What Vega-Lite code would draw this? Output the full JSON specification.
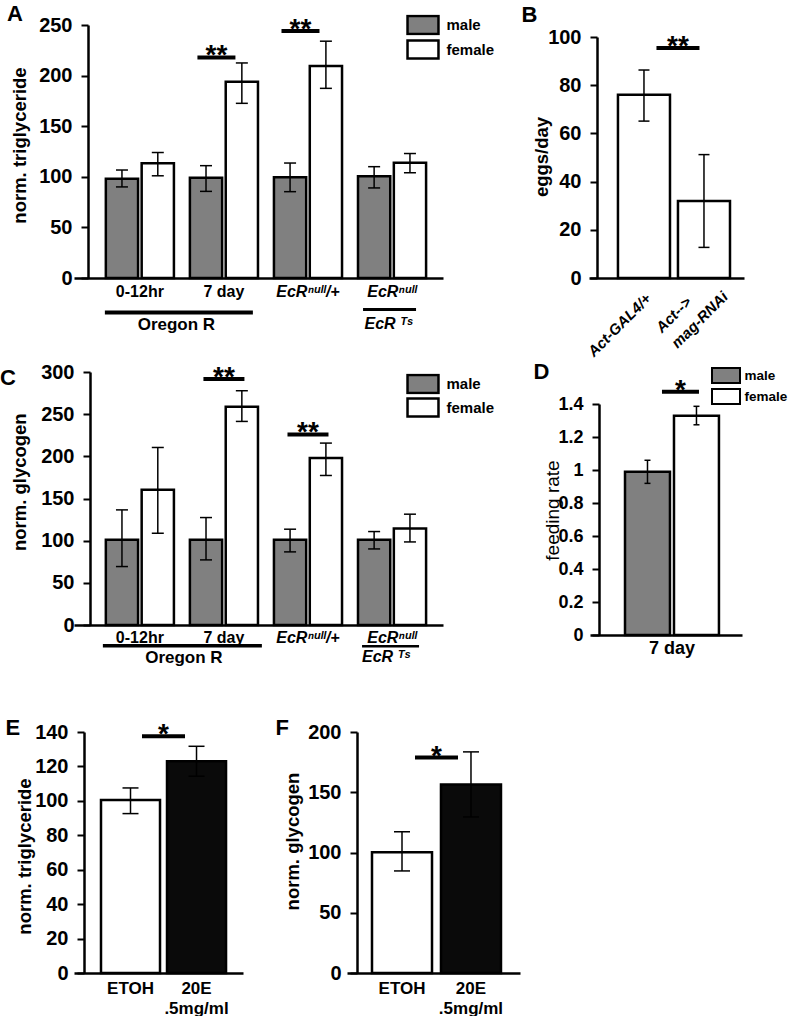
{
  "$schema": "https://vega.github.io/schema/vega-lite/v6.json",
  "padding": {"left": 0, "top": 2, "right": 0, "bottom": 0},
  "spacing": 50,
  "resolve": {"scale": {"x": "independent", "y": "independent", "xOffset": "independent", "color": "independent"}, "legend": {"color": "independent"}},
  "config": {
    "font": "Liberation Sans",
    "view": {"stroke": null},
    "axis": {"grid": false, "domainColor": "#000", "domainWidth": 2.5, "tickColor": "#000", "tickWidth": 2, "tickSize": 7, "labelColor": "#000", "titleColor": "#000", "labelFont": "Liberation Sans, DejaVu Sans", "titleFont": "Liberation Sans", "labelFontWeight": "bold", "titleFontWeight": "bold", "titleFontSize": 18.5, "labelOverlap": false},
    "axisX": {"ticks": false, "labelAngle": 0, "labelFontSize": 16, "labelPadding": 5},
    "axisY": {"labelFontSize": 20, "labelPadding": 9, "titleBaseline": "middle", "tickCount": 20},
    "title": {"fontSize": 22, "fontWeight": "bold", "anchor": "start", "frame": "group", "baseline": "alphabetic", "color": "#000", "font": "Liberation Sans"},
    "legend": {"padding": 0, "labelColor": "#000", "labelFont": "Liberation Sans", "labelFontWeight": "bold"}
  },
  "vconcat": [
    {
      "spacing": 1,
      "resolve": {"scale": {"x": "independent", "y": "independent", "xOffset": "independent", "color": "independent"}, "legend": {"color": "independent"}},
      "vconcat": [
        {
          "bounds": "flush",
          "spacing": 146,
          "resolve": {"scale": {"x": "independent", "y": "independent", "xOffset": "independent", "color": "independent"}, "legend": {"color": "independent"}},
          "hconcat": [
            {
              "width": 369, "height": 253,
              "title": {"text": "A", "dx": -67, "offset": -11.3},
              "layer": [
                {
                  "data": {"values": [
                    {"group": "0-12hr", "sex": "male", "value": 98, "lo": 90, "hi": 106.7},
                    {"group": "0-12hr", "sex": "female", "value": 113.5, "lo": 101, "hi": 124},
                    {"group": "7 day", "sex": "male", "value": 99, "lo": 85.6, "hi": 111},
                    {"group": "7 day", "sex": "female", "value": 194, "lo": 172.6, "hi": 212.5},
                    {"group": "EcRⁿᵘˡˡ/+", "sex": "male", "value": 99.5, "lo": 85.3, "hi": 113.6},
                    {"group": "EcRⁿᵘˡˡ/+", "sex": "female", "value": 209.5, "lo": 187.4, "hi": 234},
                    {"group": "EcRⁿᵘˡˡ", "sex": "male", "value": 100.5, "lo": 89, "hi": 110},
                    {"group": "EcRⁿᵘˡˡ", "sex": "female", "value": 114, "lo": 104, "hi": 123}
                  ]},
                  "layer": [
                    {
                      "mark": {"type": "bar", "stroke": "#000", "strokeWidth": 2.5},
                      "encoding": {
                        "x": {"field": "group", "type": "nominal", "sort": null, "scale": {"domain": ["0-12hr", "7 day", "EcRⁿᵘˡˡ/+", "EcRⁿᵘˡˡ"], "paddingInner": 0.19, "paddingOuter": 0.29, "align": 0.653}, "axis": {"title": null, "labelPadding": 5, "labelFontStyle": {"condition": {"test": "indexof(datum.value, 'EcR') >= 0", "value": "italic"}, "value": "normal"}}},
                        "xOffset": {"field": "sex", "type": "nominal", "sort": null, "scale": {"domain": ["male", "female"], "paddingInner": 0.1, "paddingOuter": 0}},
                        "y": {"field": "value", "type": "quantitative", "scale": {"domain": [0, 250], "nice": false}, "axis": {"values": [0, 50, 100, 150, 200, 250], "tickCount": 20, "labelOverlap": false, "offset": -14, "title": "norm. triglyceride", "titleX": -69, "titleY": 120}},
                        "color": {"field": "sex", "type": "nominal", "sort": null, "scale": {"domain": ["male", "female"], "range": ["#808080", "#ffffff"]}, "legend": {"title": null, "orient": "none", "legendX": 332, "legendY": -10.5, "clipHeight": 21, "symbolType": "M-1.72,-1H1.72V1H-1.72Z", "symbolSize": 324, "symbolOffset": 6.5, "symbolStrokeColor": "#000", "symbolStrokeWidth": 2.5, "labelFontSize": 15, "labelOffset": 13, "rowPadding": 3.5, "encode": {"symbols": {"update": {"stroke": {"value": "#000"}, "strokeWidth": {"value": 2.5}}}}}}
                      }
                    },
                    {
                      "mark": {"type": "rule", "color": "#000", "strokeWidth": 1.5},
                      "encoding": {"x": {"field": "group", "type": "nominal", "sort": null}, "xOffset": {"field": "sex", "type": "nominal", "sort": null}, "y": {"field": "lo", "type": "quantitative"}, "y2": {"field": "hi"}}
                    },
                    {
                      "mark": {"type": "tick", "orient": "horizontal", "color": "#000", "opacity": 1, "size": 12, "thickness": 1.5},
                      "encoding": {"x": {"field": "group", "type": "nominal", "sort": null}, "xOffset": {"field": "sex", "type": "nominal", "sort": null}, "y": {"field": "lo", "type": "quantitative"}}
                    },
                    {
                      "mark": {"type": "tick", "orient": "horizontal", "color": "#000", "opacity": 1, "size": 12, "thickness": 1.5},
                      "encoding": {"x": {"field": "group", "type": "nominal", "sort": null}, "xOffset": {"field": "sex", "type": "nominal", "sort": null}, "y": {"field": "hi", "type": "quantitative"}}
                    }
                  ]
                },
                {
                  "data": {"values": [
                    {"group": "7 day", "y": 218, "label": "**"},
                    {"group": "EcRⁿᵘˡˡ/+", "y": 244, "label": "**"}
                  ]},
                  "layer": [
                    {"mark": {"type": "tick", "orient": "horizontal", "color": "#000", "opacity": 1, "size": 38, "thickness": 4, "xOffset": -7.5}, "encoding": {"x": {"field": "group", "type": "nominal", "sort": null}, "y": {"field": "y", "type": "quantitative"}}},
                    {"mark": {"type": "text", "fontSize": 28, "fontWeight": "bold", "baseline": "alphabetic", "dx": -7.5, "dy": 7, "color": "#000"}, "encoding": {"x": {"field": "group", "type": "nominal", "sort": null}, "y": {"field": "y", "type": "quantitative"}, "text": {"field": "label"}}}
                  ]
                },
                {
                  "data": {"values": [{"group": "0-12hr", "label": "Oregon R"}]},
                  "layer": [
                    {"mark": {"type": "tick", "orient": "horizontal", "color": "#000", "opacity": 1, "size": 148, "thickness": 4, "xOffset": 39, "yOffset": 34.5}, "encoding": {"x": {"field": "group", "type": "nominal", "sort": null}, "y": {"datum": 0}}},
                    {"mark": {"type": "text", "fontSize": 17, "fontWeight": "bold", "baseline": "alphabetic", "dx": 36.5, "dy": 52, "color": "#000"}, "encoding": {"x": {"field": "group", "type": "nominal", "sort": null}, "y": {"datum": 0}, "text": {"field": "label"}}}
                  ]
                },
                {
                  "data": {"values": [{"group": "EcRⁿᵘˡˡ", "label": "EcR ᵀˢ"}]},
                  "layer": [
                    {"mark": {"type": "tick", "orient": "horizontal", "color": "#000", "opacity": 1, "size": 53, "thickness": 3, "xOffset": -2.5, "yOffset": 31.5}, "encoding": {"x": {"field": "group", "type": "nominal", "sort": null}, "y": {"datum": 0}}},
                    {"mark": {"type": "text", "fontSize": 16, "fontWeight": "bold", "fontStyle": "italic", "font": "Liberation Sans, DejaVu Sans", "baseline": "alphabetic", "dx": -3.5, "dy": 51, "color": "#000"}, "encoding": {"x": {"field": "group", "type": "nominal", "sort": null}, "y": {"datum": 0}, "text": {"field": "label"}}}
                  ]
                }
              ]
            },
            {
              "bounds": "flush",
              "spacing": 0,
              "resolve": {"scale": {"x": "independent", "y": "independent", "color": "independent"}, "legend": {"color": "independent"}},
              "vconcat": [
                {"width": 1, "height": 12, "data": {"values": []}, "mark": "point"},
                {
                  "width": 155, "height": 241,
                  "title": {"text": "B", "dx": -67.5, "offset": 0},
                  "layer": [
                    {
                      "data": {"values": [
                        {"genotype": "Act-GAL4/+", "value": 76, "lo": 65.1, "hi": 86.3},
                        {"genotype": "Act-->\nmag-RNAi", "value": 32, "lo": 12.7, "hi": 51.2}
                      ]},
                      "layer": [
                        {
                          "mark": {"type": "bar", "fill": "#fff", "stroke": "#000", "strokeWidth": 2.5},
                          "encoding": {
                            "x": {"field": "genotype", "type": "nominal", "sort": null, "scale": {"domain": ["Act-GAL4/+", "Act-->\nmag-RNAi"], "paddingInner": 0.133, "paddingOuter": 0.358, "align": 0.674}, "axis": {"title": null, "labels": false}},
                            "y": {"field": "value", "type": "quantitative", "scale": {"domain": [0, 100], "nice": false}, "axis": {"values": [0, 20, 40, 60, 80, 100], "tickCount": 20, "labelOverlap": false, "offset": -8, "title": "eggs/day", "titleX": -56, "titleY": 119.5}}
                          }
                        },
                        {"mark": {"type": "rule", "color": "#000", "strokeWidth": 1.5}, "encoding": {"x": {"field": "genotype", "type": "nominal", "sort": null}, "y": {"field": "lo", "type": "quantitative"}, "y2": {"field": "hi"}}},
                        {"mark": {"type": "tick", "orient": "horizontal", "color": "#000", "opacity": 1, "size": 11, "thickness": 1.5}, "encoding": {"x": {"field": "genotype", "type": "nominal", "sort": null}, "y": {"field": "lo", "type": "quantitative"}}},
                        {"mark": {"type": "tick", "orient": "horizontal", "color": "#000", "opacity": 1, "size": 11, "thickness": 1.5}, "encoding": {"x": {"field": "genotype", "type": "nominal", "sort": null}, "y": {"field": "hi", "type": "quantitative"}}}
                      ]
                    },
                    {
                      "data": {"values": [{"genotype": "Act-GAL4/+"}]},
                      "mark": {"type": "text", "angle": -45, "align": "right", "baseline": "middle", "dx": -9.5, "dy": 15.9, "fontSize": 15, "fontWeight": "bold", "fontStyle": "italic", "color": "#000"},
                      "encoding": {"x": {"field": "genotype", "type": "nominal", "sort": null}, "y": {"datum": 0}, "text": {"field": "genotype"}}
                    },
                    {
                      "data": {"values": [{"genotype": "Act-->\nmag-RNAi"}]},
                      "mark": {"type": "text", "angle": -45, "align": "left", "baseline": "middle", "lineBreak": "\n", "lineHeight": 22, "dx": -68.9, "dy": 4.6, "fontSize": 15, "fontWeight": "bold", "fontStyle": "italic", "color": "#000"},
                      "encoding": {"x": {"field": "genotype", "type": "nominal", "sort": null}, "y": {"datum": 0}, "text": {"field": "genotype"}}
                    },
                    {
                      "data": {"values": [{"genotype": "Act-GAL4/+", "y": 95.4, "label": "**"}]},
                      "layer": [
                        {"mark": {"type": "tick", "orient": "horizontal", "color": "#000", "opacity": 1, "size": 43, "thickness": 4, "xOffset": 34}, "encoding": {"x": {"field": "genotype", "type": "nominal", "sort": null}, "y": {"field": "y", "type": "quantitative"}}},
                        {"mark": {"type": "text", "fontSize": 28, "fontWeight": "bold", "baseline": "alphabetic", "dx": 34, "dy": 7, "color": "#000"}, "encoding": {"x": {"field": "genotype", "type": "nominal", "sort": null}, "y": {"field": "y", "type": "quantitative"}, "text": {"field": "label"}}}
                      ]
                    }
                  ]
                }
              ]
            }
          ]
        },
        {
          "bounds": "flush",
          "spacing": 147,
          "resolve": {"scale": {"x": "independent", "y": "independent", "xOffset": "independent", "color": "independent"}, "legend": {"color": "independent"}},
          "hconcat": [
            {
              "width": 369, "height": 253,
              "title": {"text": "C", "dx": -74, "offset": -28},
              "layer": [
                {
                  "data": {"values": [
                    {"group": "0-12hr", "sex": "male", "value": 101, "lo": 69.3, "hi": 136.5},
                    {"group": "0-12hr", "sex": "female", "value": 160.3, "lo": 108.8, "hi": 210.5},
                    {"group": "7 day", "sex": "male", "value": 101, "lo": 77.2, "hi": 127.4},
                    {"group": "7 day", "sex": "female", "value": 258.8, "lo": 241.4, "hi": 277.8},
                    {"group": "EcRⁿᵘˡˡ/+", "sex": "male", "value": 101, "lo": 86.7, "hi": 113.6},
                    {"group": "EcRⁿᵘˡˡ/+", "sex": "female", "value": 197.9, "lo": 177.3, "hi": 215.7},
                    {"group": "EcRⁿᵘˡˡ", "sex": "male", "value": 101, "lo": 90.2, "hi": 110.8},
                    {"group": "EcRⁿᵘˡˡ", "sex": "female", "value": 114.4, "lo": 98.5, "hi": 131.4}
                  ]},
                  "layer": [
                    {
                      "mark": {"type": "bar", "stroke": "#000", "strokeWidth": 2.5},
                      "encoding": {
                        "x": {"field": "group", "type": "nominal", "sort": null, "scale": {"domain": ["0-12hr", "7 day", "EcRⁿᵘˡˡ/+", "EcRⁿᵘˡˡ"], "paddingInner": 0.19, "paddingOuter": 0.29, "align": 0.653}, "axis": {"title": null, "labelPadding": 4, "labelFontStyle": {"condition": {"test": "indexof(datum.value, 'EcR') >= 0", "value": "italic"}, "value": "normal"}}},
                        "xOffset": {"field": "sex", "type": "nominal", "sort": null, "scale": {"domain": ["male", "female"], "paddingInner": 0.1, "paddingOuter": 0}},
                        "y": {"field": "value", "type": "quantitative", "scale": {"domain": [0, 300], "nice": false}, "axis": {"values": [0, 50, 100, 150, 200, 250, 300], "tickCount": 20, "labelOverlap": false, "offset": -16, "title": "norm. glycogen", "titleX": -71, "titleY": 109.7}},
                        "color": {"field": "sex", "type": "nominal", "sort": null, "scale": {"domain": ["male", "female"], "range": ["#808080", "#ffffff"]}, "legend": {"title": null, "orient": "none", "legendX": 332, "legendY": 1.5, "clipHeight": 21, "symbolType": "M-1.72,-1H1.72V1H-1.72Z", "symbolSize": 324, "symbolOffset": 6.5, "symbolStrokeColor": "#000", "symbolStrokeWidth": 2.5, "labelFontSize": 15, "labelOffset": 13, "rowPadding": 2.5, "encode": {"symbols": {"update": {"stroke": {"value": "#000"}, "strokeWidth": {"value": 2.5}}}}}}
                      }
                    },
                    {
                      "mark": {"type": "rule", "color": "#000", "strokeWidth": 1.5},
                      "encoding": {"x": {"field": "group", "type": "nominal", "sort": null}, "xOffset": {"field": "sex", "type": "nominal", "sort": null}, "y": {"field": "lo", "type": "quantitative"}, "y2": {"field": "hi"}}
                    },
                    {
                      "mark": {"type": "tick", "orient": "horizontal", "color": "#000", "opacity": 1, "size": 12, "thickness": 1.5},
                      "encoding": {"x": {"field": "group", "type": "nominal", "sort": null}, "xOffset": {"field": "sex", "type": "nominal", "sort": null}, "y": {"field": "lo", "type": "quantitative"}}
                    },
                    {
                      "mark": {"type": "tick", "orient": "horizontal", "color": "#000", "opacity": 1, "size": 12, "thickness": 1.5},
                      "encoding": {"x": {"field": "group", "type": "nominal", "sort": null}, "xOffset": {"field": "sex", "type": "nominal", "sort": null}, "y": {"field": "hi", "type": "quantitative"}}
                    }
                  ]
                },
                {
                  "data": {"values": [
                    {"group": "7 day", "y": 291.6, "label": "**"},
                    {"group": "EcRⁿᵘˡˡ/+", "y": 226, "label": "**"}
                  ]},
                  "layer": [
                    {"mark": {"type": "tick", "orient": "horizontal", "color": "#000", "opacity": 1, "size": 41, "thickness": 4}, "encoding": {"x": {"field": "group", "type": "nominal", "sort": null}, "y": {"field": "y", "type": "quantitative"}}},
                    {"mark": {"type": "text", "fontSize": 28, "fontWeight": "bold", "baseline": "alphabetic", "dy": 7, "color": "#000"}, "encoding": {"x": {"field": "group", "type": "nominal", "sort": null}, "y": {"field": "y", "type": "quantitative"}, "text": {"field": "label"}}}
                  ]
                },
                {
                  "data": {"values": [{"group": "0-12hr", "label": "Oregon R"}]},
                  "layer": [
                    {"mark": {"type": "tick", "orient": "horizontal", "color": "#000", "opacity": 1, "size": 159, "thickness": 3.5, "xOffset": 42.5, "yOffset": 20.7}, "encoding": {"x": {"field": "group", "type": "nominal", "sort": null}, "y": {"datum": 0}}},
                    {"mark": {"type": "text", "fontSize": 17, "fontWeight": "bold", "baseline": "alphabetic", "dx": 44, "dy": 37.7, "color": "#000"}, "encoding": {"x": {"field": "group", "type": "nominal", "sort": null}, "y": {"datum": 0}, "text": {"field": "label"}}}
                  ]
                },
                {
                  "data": {"values": [{"group": "EcRⁿᵘˡˡ", "label": "EcR ᵀˢ"}]},
                  "layer": [
                    {"mark": {"type": "tick", "orient": "horizontal", "color": "#000", "opacity": 1, "size": 57, "thickness": 2.5, "xOffset": -1.5, "yOffset": 21.2}, "encoding": {"x": {"field": "group", "type": "nominal", "sort": null}, "y": {"datum": 0}}},
                    {"mark": {"type": "text", "fontSize": 16, "fontWeight": "bold", "fontStyle": "italic", "font": "Liberation Sans, DejaVu Sans", "baseline": "alphabetic", "dx": -6, "dy": 36.7, "color": "#000"}, "encoding": {"x": {"field": "group", "type": "nominal", "sort": null}, "y": {"datum": 0}, "text": {"field": "label"}}}
                  ]
                }
              ]
            },
            {
              "bounds": "flush",
              "spacing": 0,
              "resolve": {"scale": {"x": "independent", "y": "independent", "xOffset": "independent", "color": "independent"}, "legend": {"color": "independent"}},
              "vconcat": [
                {"width": 1, "height": 32, "data": {"values": []}, "mark": "point"},
                {
                  "width": 152, "height": 231,
                  "title": {"text": "D", "dx": -56.5, "offset": -17},
                  "layer": [
                    {
                      "data": {"values": [
                        {"day": "7 day", "sex": "male", "value": 0.99, "lo": 0.919, "hi": 1.059},
                        {"day": "7 day", "sex": "female", "value": 1.329, "lo": 1.274, "hi": 1.386}
                      ]},
                      "layer": [
                        {
                          "mark": {"type": "bar", "stroke": "#000", "strokeWidth": 2.5},
                          "encoding": {
                            "x": {"field": "day", "type": "nominal", "sort": null, "scale": {"domain": ["7 day"], "paddingInner": 0, "paddingOuter": 0.309, "align": 0.603}, "axis": {"title": null, "labelFontSize": 18, "labelPadding": 4}},
                            "xOffset": {"field": "sex", "type": "nominal", "sort": null, "scale": {"domain": ["male", "female"], "paddingInner": 0.082, "paddingOuter": 0}},
                            "y": {"field": "value", "type": "quantitative", "scale": {"domain": [0, 1.4], "nice": false}, "axis": {"values": [0, 0.2, 0.4, 0.6, 0.8, 1, 1.2, 1.4], "tickCount": 20, "labelOverlap": false, "format": "~g", "labelFontSize": 18, "offset": -9, "title": "feeding rate", "titleFontWeight": "normal", "titleFontSize": 19, "titleX": -46.5, "titleY": 106}},
                            "color": {"field": "sex", "type": "nominal", "sort": null, "scale": {"domain": ["male", "female"], "range": ["#808080", "#ffffff"]}, "legend": {"title": null, "orient": "none", "legendX": 121, "legendY": -37, "clipHeight": 17, "symbolType": "M-1.867,-1H1.867V1H-1.867Z", "symbolSize": 225, "symbolOffset": 6.5, "symbolStrokeColor": "#000", "symbolStrokeWidth": 2, "labelFontSize": 13.5, "labelOffset": 10, "rowPadding": 4, "encode": {"symbols": {"update": {"stroke": {"value": "#000"}, "strokeWidth": {"value": 2}}}}}}
                          }
                        },
                        {"mark": {"type": "rule", "color": "#000", "strokeWidth": 1.5}, "encoding": {"x": {"field": "day", "type": "nominal", "sort": null}, "xOffset": {"field": "sex", "type": "nominal", "sort": null}, "y": {"field": "lo", "type": "quantitative"}, "y2": {"field": "hi"}}},
                        {"mark": {"type": "tick", "orient": "horizontal", "color": "#000", "opacity": 1, "size": 6, "thickness": 1.5}, "encoding": {"x": {"field": "day", "type": "nominal", "sort": null}, "xOffset": {"field": "sex", "type": "nominal", "sort": null}, "y": {"field": "lo", "type": "quantitative"}}},
                        {"mark": {"type": "tick", "orient": "horizontal", "color": "#000", "opacity": 1, "size": 6, "thickness": 1.5}, "encoding": {"x": {"field": "day", "type": "nominal", "sort": null}, "xOffset": {"field": "sex", "type": "nominal", "sort": null}, "y": {"field": "hi", "type": "quantitative"}}}
                      ]
                    },
                    {
                      "data": {"values": [{"day": "7 day", "y": 1.475, "label": "*"}]},
                      "layer": [
                        {"mark": {"type": "tick", "orient": "horizontal", "color": "#000", "opacity": 1, "size": 37, "thickness": 4, "xOffset": 8.5}, "encoding": {"x": {"field": "day", "type": "nominal", "sort": null}, "y": {"field": "y", "type": "quantitative"}}},
                        {"mark": {"type": "text", "fontSize": 28, "fontWeight": "bold", "baseline": "alphabetic", "dx": 8.5, "dy": 7, "color": "#000"}, "encoding": {"x": {"field": "day", "type": "nominal", "sort": null}, "y": {"field": "y", "type": "quantitative"}, "text": {"field": "label"}}}
                      ]
                    }
                  ]
                }
              ]
            }
          ]
        }
      ]
    },
    {
      "bounds": "flush",
      "spacing": 104,
      "resolve": {"scale": {"x": "independent", "y": "independent", "color": "independent"}, "legend": {"color": "independent"}},
      "hconcat": [
        {
          "width": 169, "height": 241,
          "title": {"text": "E", "dx": -68.5, "offset": -18.4},
          "layer": [
            {
              "data": {"values": [
                {"treatment": "ETOH", "value": 100.5, "lo": 92.6, "hi": 107.5},
                {"treatment": "20E\n.5mg/ml", "value": 123, "lo": 114.3, "hi": 131.7}
              ]},
              "layer": [
                {
                  "mark": {"type": "bar", "stroke": "#000", "strokeWidth": 2.5},
                  "encoding": {
                    "x": {"field": "treatment", "type": "nominal", "sort": null, "scale": {"domain": ["ETOH", "20E\n.5mg/ml"], "paddingInner": 0.106, "paddingOuter": 0.333, "align": 0.614}, "axis": {"title": null, "labelExpr": "split(datum.label, '\\n')", "labelFontSize": 17, "labelPadding": 7, "labelLineHeight": 20}},
                    "y": {"field": "value", "type": "quantitative", "scale": {"domain": [0, 140], "nice": false}, "axis": {"values": [0, 20, 40, 60, 80, 100, 120, 140], "tickCount": 20, "labelOverlap": false, "offset": -10, "title": "norm. triglyceride", "titleX": -60, "titleY": 124}},
                    "color": {"field": "treatment", "type": "nominal", "sort": null, "scale": {"domain": ["ETOH", "20E\n.5mg/ml"], "range": ["#ffffff", "#0a0a0a"]}, "legend": null}
                  }
                },
                {"mark": {"type": "rule", "color": "#000", "strokeWidth": 1.5}, "encoding": {"x": {"field": "treatment", "type": "nominal", "sort": null}, "y": {"field": "lo", "type": "quantitative"}, "y2": {"field": "hi"}}},
                {"mark": {"type": "tick", "orient": "horizontal", "color": "#000", "opacity": 1, "size": 16, "thickness": 1.5}, "encoding": {"x": {"field": "treatment", "type": "nominal", "sort": null}, "y": {"field": "lo", "type": "quantitative"}}},
                {"mark": {"type": "tick", "orient": "horizontal", "color": "#000", "opacity": 1, "size": 16, "thickness": 1.5}, "encoding": {"x": {"field": "treatment", "type": "nominal", "sort": null}, "y": {"field": "hi", "type": "quantitative"}}}
              ]
            },
            {
              "data": {"values": [{"treatment": "ETOH", "y": 137.5, "label": "*"}]},
              "layer": [
                {"mark": {"type": "tick", "orient": "horizontal", "color": "#000", "opacity": 1, "size": 43, "thickness": 4, "xOffset": 33}, "encoding": {"x": {"field": "treatment", "type": "nominal", "sort": null}, "y": {"field": "y", "type": "quantitative"}}},
                {"mark": {"type": "text", "fontSize": 28, "fontWeight": "bold", "baseline": "alphabetic", "dx": 33, "dy": 7, "color": "#000"}, "encoding": {"x": {"field": "treatment", "type": "nominal", "sort": null}, "y": {"field": "y", "type": "quantitative"}, "text": {"field": "label"}}}
              ]
            }
          ]
        },
        {
          "width": 173, "height": 241,
          "title": {"text": "F", "dx": -71.5, "offset": -18.4},
          "layer": [
            {
              "data": {"values": [
                {"treatment": "ETOH", "value": 100.2, "lo": 84.7, "hi": 117.2},
                {"treatment": "20E\n.5mg/ml", "value": 156.5, "lo": 129.5, "hi": 183.5}
              ]},
              "layer": [
                {
                  "mark": {"type": "bar", "stroke": "#000", "strokeWidth": 2.5},
                  "encoding": {
                    "x": {"field": "treatment", "type": "nominal", "sort": null, "scale": {"domain": ["ETOH", "20E\n.5mg/ml"], "paddingInner": 0.13, "paddingOuter": 0.319, "align": 0.568}, "axis": {"title": null, "labelExpr": "split(datum.label, '\\n')", "labelFontSize": 17, "labelPadding": 7, "labelLineHeight": 20}},
                    "y": {"field": "value", "type": "quantitative", "scale": {"domain": [0, 200], "nice": false}, "axis": {"values": [0, 50, 100, 150, 200], "tickCount": 20, "labelOverlap": false, "offset": -10, "title": "norm. glycogen", "titleX": -64.5, "titleY": 109}},
                    "color": {"field": "treatment", "type": "nominal", "sort": null, "scale": {"domain": ["ETOH", "20E\n.5mg/ml"], "range": ["#ffffff", "#0a0a0a"]}, "legend": null}
                  }
                },
                {"mark": {"type": "rule", "color": "#000", "strokeWidth": 1.5}, "encoding": {"x": {"field": "treatment", "type": "nominal", "sort": null}, "y": {"field": "lo", "type": "quantitative"}, "y2": {"field": "hi"}}},
                {"mark": {"type": "tick", "orient": "horizontal", "color": "#000", "opacity": 1, "size": 16, "thickness": 1.5}, "encoding": {"x": {"field": "treatment", "type": "nominal", "sort": null}, "y": {"field": "lo", "type": "quantitative"}}},
                {"mark": {"type": "tick", "orient": "horizontal", "color": "#000", "opacity": 1, "size": 16, "thickness": 1.5}, "encoding": {"x": {"field": "treatment", "type": "nominal", "sort": null}, "y": {"field": "hi", "type": "quantitative"}}}
              ]
            },
            {
              "data": {"values": [{"treatment": "ETOH", "y": 178.8, "label": "*"}]},
              "layer": [
                {"mark": {"type": "tick", "orient": "horizontal", "color": "#000", "opacity": 1, "size": 43, "thickness": 4, "xOffset": 34.5}, "encoding": {"x": {"field": "treatment", "type": "nominal", "sort": null}, "y": {"field": "y", "type": "quantitative"}}},
                {"mark": {"type": "text", "fontSize": 28, "fontWeight": "bold", "baseline": "alphabetic", "dx": 34.5, "dy": 7, "color": "#000"}, "encoding": {"x": {"field": "treatment", "type": "nominal", "sort": null}, "y": {"field": "y", "type": "quantitative"}, "text": {"field": "label"}}}
              ]
            }
          ]
        }
      ]
    }
  ]
}
